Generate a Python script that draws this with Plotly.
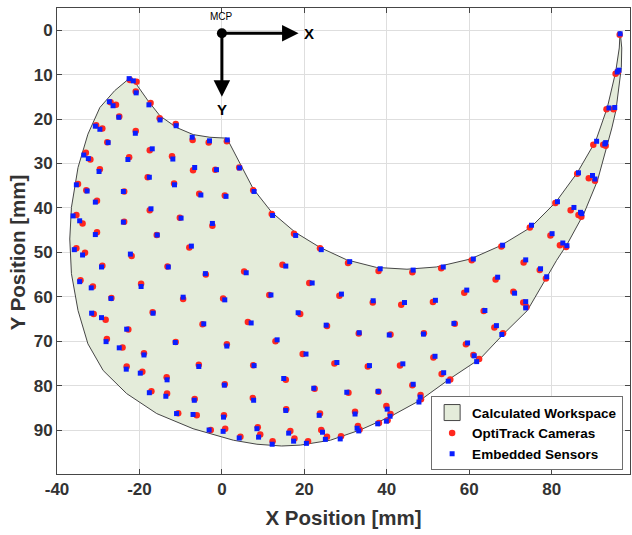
import plotly.graph_objects as go

# ---------------- data (mm) ----------------
x_ticks = [-40, -20, 0, 20, 40, 60, 80]
y_ticks = [0, 10, 20, 30, 40, 50, 60, 70, 80, 90]

# Calculated workspace boundary (outer arc then inner arc)
ws_x = [96.6, 97.0, 96.9, 96.3, 95.6, 94.6, 93.4, 91.1, 87.8, 83.8, 81.2, 78.8, 74.1, 68.4, 62.7,
        55.4, 48.1, 40.8, 33.5, 26.3, 19.0, 14.5, 8.5, 2.8, -7.0, -15.8, -23.1, -28.8, -32.5,
        -34.9, -36.5, -36.9, -36.5, -34.9, -32.5, -29.6, -26.0, -22.0,
        -17.9, -15.0, -11.0, -6.95, -2.9, 1.2, 4.4, 7.6, 12.1, 17.8, 23.8, 30.3, 37.5, 44.9,
        52.0, 60.3, 67.6, 74.9, 81.0, 86.2, 90.7, 93.5, 95.5, 96.4, 96.6]
ws_y = [0.2, 4.0, 8.4, 13.0, 18.0, 22.0, 26.3, 33.9, 41.3, 48.1, 51.8, 55.7, 63.1, 68.3, 73.9,
        78.4, 83.3, 87.0, 90.0, 92.3, 93.4, 93.6, 93.2, 92.3, 89.7, 86.3, 81.8, 76.6, 70.6,
        63.1, 54.8, 47.0, 39.9, 30.9, 23.4, 17.4, 13.6, 10.5,
        15.9, 19.3, 21.9, 23.5, 24.1, 24.3, 30.1, 35.7, 41.0, 45.5, 48.9, 51.7, 53.4, 53.8,
        53.3, 51.5, 48.5, 44.4, 38.7, 32.1, 24.9, 17.4, 9.5, 4.0, 0.2]

# OptiTrack camera measurements
opti_x = [-22.3, -20.7, -20.9, -27.0, -25.7, -17.3, -24.9, -15.1, -11.2, -30.5, -29.0, -20.9, -7.1,
          -3.2, -27.8, -17.5, -33.0, -31.9, -22.5, -12.1, -29.6, -7.0, -1.6, -18.0, -34.9, -11.6,
          1.2, 4.2, 7.6, 12.1, 17.5, 23.8, -32.9, -23.7, -5.5, 0.7, -30.3, -17.5, -35.3, -33.8,
          -23.7, -10.2, -2.3, -30.3, -15.8, -7.9, -35.3, -33.2, -21.9, -29.0, -13.2, -3.9, -34.3,
          -31.3, -19.6, -26.8, -9.4, 0.3, -31.1, -16.8, -28.2, -22.7, -4.7, -27.9, -24.1, -18.9,
          -11.2, -23.1, -19.3, -13.4, -5.6, -17.1, -13.3, -6.6, -10.6, -6.1, 0.7, -2.7, 0.8, 0.5,
          11.5, 5.4, 14.7, 21.2, 19.0, 6.3, 25.5, 33.2, 1.2, 13.0, 19.6, 27.3, 35.4, 7.6, 15.5,
          22.5, 30.7, 38.0, 7.5, 15.6, 23.8, 32.3, 8.7, 9.3, 4.5, 12.3, 16.6, 17.6, 20.9, 24.1,
          25.5, 28.9, 33.0, 33.4, 38.1, 40.2, 30.6, 38.0, 46.2, 53.2, 60.6, 67.8, 73.2, 77.1,
          78.6, 66.4, 58.8, 70.7, 73.1, 73.9, 63.5, 66.1, 68.2, 43.5, 51.2, 40.9, 49.0, 56.5,
          59.2, 51.3, 61.0, 62.4, 43.2, 53.3, 55.4, 46.2, 48.2, 48.3, 39.9, 40.9, 80.9, 84.6,
          86.5, 87.2, 74.7, 79.7, 82.0, 83.5, 96.5, 95.5, 96.1, 93.3, 95.0, 90.1, 92.5, 93.1,
          86.2, 89.0, 90.5, 28.5, 36.6]
opti_y = [11.2, 11.6, 13.8, 16.2, 16.8, 16.4, 19.4, 19.8, 21.1, 21.4, 22.1, 22.7, 24.7,
          25.3, 25.2, 27.0, 27.6, 29.1, 28.6, 28.4, 31.3, 31.5, 31.4, 33.1, 34.6, 34.5,
          25.0, 30.9, 36.0, 41.4, 45.8, 49.1, 36.0, 36.3, 36.8, 37.2, 38.4, 40.5, 41.6, 43.5,
          43.1, 42.2, 44.0, 45.5, 46.1, 48.9, 49.1, 50.1, 50.8, 53.0, 53.2, 55.0, 56.3,
          57.7, 57.1, 60.3, 60.5, 60.4, 63.9, 63.5, 65.2, 67.4, 66.2, 69.5, 71.4, 72.7,
          70.2, 75.7, 76.9, 78.1, 75.3, 81.3, 81.8, 83.0, 86.2, 86.7, 79.7, 90.0, 89.7, 86.7,
          59.6, 54.3, 52.8, 56.9, 63.9, 65.7, 66.6, 68.3, 70.7, 70.0, 72.9, 75.0, 75.7, 75.4, 78.7,
          80.7, 81.6, 81.4, 82.8, 85.3, 86.3, 85.9, 89.4, 91.0, 91.5, 92.5, 90.2, 91.9, 92.5, 90.0,
          91.5, 91.4, 89.1, 89.9, 88.4, 87.8, 52.4, 54.2, 54.5, 53.6, 51.8, 48.7, 52.3, 54.0,
          55.9, 56.1, 59.1, 58.9, 61.3, 62.3, 63.2, 66.9, 68.2, 61.8, 61.2, 68.5, 68.2, 66.1,
          70.7, 73.7, 73.1, 74.0, 75.5, 77.4, 78.6, 79.9, 82.1, 83.1, 84.6, 86.4, 38.9, 40.5,
          41.6, 42.0, 44.4, 46.2, 48.4, 48.8, 1.0, 9.8, 9.3, 17.8, 17.8, 25.8, 25.8, 26.0,
          32.3, 33.3, 33.9, 59.8, 61.3]

# Embedded sensor estimates
emb_x = [-22.5, -21.5, -20.8, -27.3, -26.4, -17.7, -25.0, -15.0, -11.1, -30.7, -29.6, -21.0, -7.2,
         -3.0, -27.6, -16.9, -33.5, -32.4, -22.8, -11.9, -29.8, -6.6, -1.3, -17.6, -35.3, -11.5,
         1.3, 4.3, 7.8, 12.3, 17.9, 24.1, -32.7, -23.9, -5.1, 1.0, -30.7, -17.2, -36.1, -34.5,
         -23.9, -9.9, -2.3, -30.7, -15.7, -7.4, -35.8, -33.8, -22.2, -29.2, -13.0, -4.0, -34.5,
         -31.7, -19.6, -26.9, -9.4, 0.7, -31.6, -16.7, -29.2, -23.1, -4.4, -28.1, -24.9, -18.9,
         -11.3, -23.2, -19.8, -13.3, -5.6, -17.6, -13.6, -6.7, -11.0, -7.0, 0.6, -3.1, 0.3, 0.4,
         11.9, 5.9, 15.5, 21.9, 18.5, 7.1, 25.3, 33.3, 1.2, 13.4, 20.4, 27.9, 35.8, 7.8, 15.0,
         22.3, 30.3, 37.9, 7.7, 15.5, 23.6, 32.3, 8.5, 8.9, 4.2, 12.2, 16.2, 17.4, 20.5, 24.4,
         25.1, 28.7, 32.8, 33.2, 37.8, 39.9, 31.0, 38.4, 46.4, 53.7, 61.0, 68.1, 73.7, 77.3,
         78.8, 66.9, 59.4, 71.0, 73.7, 73.7, 63.8, 66.6, 67.9, 44.3, 51.8, 40.6, 48.9, 56.3,
         59.6, 51.7, 61.2, 61.8, 43.9, 53.8, 54.9, 46.4, 48.1, 47.8, 40.1, 40.8, 81.4, 85.4,
         87.0, 87.3, 75.1, 80.1, 82.7, 83.7, 96.6, 95.9, 96.3, 93.9, 95.3, 90.9, 93.1, 92.9,
         86.5, 89.9, 90.5, 29.0, 36.7]
emb_y = [10.9, 11.4, 14.1, 16.1, 17.0, 16.8, 19.6, 20.2, 21.5, 21.6, 22.3, 23.2, 24.1,
         24.9, 25.3, 26.7, 28.1, 28.9, 29.1, 29.0, 31.8, 30.9, 31.4, 33.1, 34.8, 34.8,
         24.7, 31.0, 36.3, 41.7, 46.2, 49.4, 36.2, 36.3, 37.1, 37.4, 38.7, 40.2, 41.8, 42.9,
         43.2, 42.3, 43.5, 46.0, 46.1, 48.6, 49.4, 50.6, 50.4, 53.3, 53.3, 54.8, 56.6,
         58.0, 57.7, 60.4, 60.1, 60.7, 63.7, 63.7, 64.7, 67.3, 66.1, 70.1, 71.5, 73.1,
         70.3, 76.3, 77.2, 78.7, 75.7, 81.6, 82.4, 83.3, 86.3, 86.5, 79.9, 90.0, 90.3, 87.1,
         59.6, 54.6, 53.1, 56.9, 63.6, 65.9, 66.4, 68.1, 71.1, 69.7, 72.9, 74.8, 75.5, 75.5, 78.4,
         80.6, 81.5, 81.3, 83.3, 85.6, 86.7, 86.4, 89.7, 91.6, 91.8, 93.2, 90.7, 92.5, 93.0, 90.5,
         92.1, 92.0, 89.6, 90.2, 88.6, 88.0, 52.1, 53.7, 54.0, 53.3, 51.5, 48.4, 51.7, 53.7,
         55.5, 55.6, 58.5, 59.2, 61.1, 62.5, 63.1, 66.5, 68.5, 61.3, 60.8, 68.6, 68.4, 66.0,
         70.4, 73.4, 73.3, 74.6, 75.1, 77.1, 79.0, 79.7, 82.6, 83.7, 85.3, 86.9, 38.6, 39.9,
         41.0, 41.3, 43.9, 45.8, 47.9, 48.5, 0.8, 9.4, 9.0, 17.5, 17.4, 25.0, 25.3, 25.6,
         32.1, 32.7, 33.5, 59.4, 60.9]

# Hand coordinate frame (MCP joint at the origin)
frame_x_end = 18.6
frame_y_end = 15.0

# ---------------- figure ----------------
FONT = "Liberation Sans"
AXIS_COL = "rgb(70,70,70)"
TXT_COL = "rgb(51,51,51)"
WS_FILL = "rgb(228,236,218)"
WS_LINE = "rgb(70,70,70)"

fig = go.Figure()

# legend swatch for the workspace (filled box with dark outline)
fig.add_trace(go.Scatter(
    x=[None], y=[None], mode="markers", name="Calculated Workspace",
    marker=dict(symbol="square", size=16, color=WS_FILL, line=dict(color=WS_LINE, width=1))))

fig.add_trace(go.Scatter(
    x=ws_x, y=ws_y, mode="lines", fill="toself", fillcolor=WS_FILL,
    line=dict(color=WS_LINE, width=1), showlegend=False, hoverinfo="skip"))

fig.add_trace(go.Scatter(
    x=opti_x, y=opti_y, mode="markers", name="OptiTrack Cameras",
    marker=dict(symbol="circle", size=6.5, color="rgb(255,40,30)", line=dict(width=0))))

fig.add_trace(go.Scatter(
    x=emb_x, y=emb_y, mode="markers", name="Embedded Sensors",
    marker=dict(symbol="square", size=5, color="rgb(10,30,255)", line=dict(width=0))))

# MCP origin dot
fig.add_trace(go.Scatter(
    x=[0], y=[0.7], mode="markers", showlegend=False, hoverinfo="skip",
    marker=dict(symbol="circle", size=10, color="black")))

annotations = [
    dict(x=frame_x_end, y=0.7, ax=0, ay=0.7, xref="x", yref="y", axref="x", ayref="y",
         text="", showarrow=True, arrowhead=2, arrowsize=1.1, arrowwidth=3, arrowcolor="black"),
    dict(x=0, y=frame_y_end, ax=0, ay=0.7, xref="x", yref="y", axref="x", ayref="y",
         text="", showarrow=True, arrowhead=2, arrowsize=1.1, arrowwidth=3, arrowcolor="black"),
    dict(x=frame_x_end + 0.8, y=0.7, xref="x", yref="y", text="X", showarrow=False,
         xanchor="left", font=dict(family=FONT, size=15, color="black", weight="bold")),
    dict(x=0, y=frame_y_end + 2.8, xref="x", yref="y", text="Y", showarrow=False,
         font=dict(family=FONT, size=15, color="black", weight="bold")),
    dict(x=0, y=-3.0, xref="x", yref="y", text="MCP", showarrow=False,
         font=dict(family=FONT, size=10, color="black")),
    dict(x=-0.0695, y=0.476, xref="paper", yref="paper", text="Y Position [mm]",
         showarrow=False, textangle=-90, xanchor="center", yanchor="middle",
         font=dict(family=FONT, size=20.5, color=TXT_COL, weight="bold")),
]

fig.update_layout(
    width=632, height=535,
    margin=dict(l=57, r=2, t=8, b=61),
    paper_bgcolor="white", plot_bgcolor="white",
    font=dict(family=FONT, color=TXT_COL),
    annotations=annotations,
    legend=dict(
        x=0.988, y=0.008, xanchor="right", yanchor="bottom",
        bgcolor="white", bordercolor="rgb(110,110,110)", borderwidth=1,
        font=dict(family=FONT, size=13.5, color="black", weight="bold"),
        tracegroupgap=0, itemwidth=30, itemsizing="trace"),
)

fig.update_xaxes(
    range=[-40, 99], tickvals=x_ticks, ticktext=[str(v) for v in x_ticks],
    showgrid=True, gridcolor="rgb(222,222,222)", gridwidth=1,
    zeroline=False, showline=True, linecolor=AXIS_COL, linewidth=1, mirror="ticks",
    ticks="inside", ticklen=5, tickcolor=AXIS_COL,
    tickfont=dict(family=FONT, size=17, color=TXT_COL, weight="bold"),
    title=dict(text="X Position [mm]", standoff=12,
               font=dict(family=FONT, size=20.5, color=TXT_COL, weight="bold")),
)
fig.update_yaxes(
    range=[99.9, -5], tickvals=y_ticks, ticktext=[str(v) for v in y_ticks],
    showgrid=True, gridcolor="rgb(222,222,222)", gridwidth=1,
    zeroline=False, showline=True, linecolor=AXIS_COL, linewidth=1, mirror="ticks",
    ticks="inside", ticklen=5, tickcolor=AXIS_COL,
    tickfont=dict(family=FONT, size=17, color=TXT_COL, weight="bold"),
)

fig.write_html("out.html")
